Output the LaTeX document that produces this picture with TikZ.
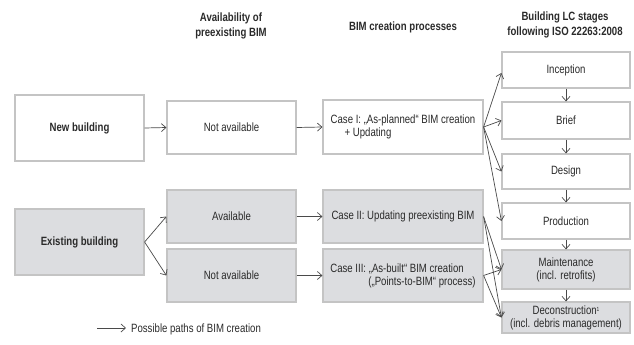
\documentclass[tikz,border=0pt]{standalone}
\usepackage{fontspec}
\setmainfont{Liberation Sans}[FakeStretch=0.8]
\usetikzlibrary{arrows.meta}
\definecolor{boxline}{HTML}{C4C4C4}
\definecolor{boxfill}{HTML}{DCDDE0}
\definecolor{arrowc}{HTML}{4A4A4A}
\definecolor{txt}{HTML}{2A2A2A}
\begin{document}
\begin{tikzpicture}[x=1pt,y=-1pt,
  font=\fontsize{12}{13}\selectfont, text=txt,
  box/.style={draw=boxline, line width=1.2pt, fill=white, inner sep=0pt, align=center},
  gbox/.style={box, fill=boxfill},
  hdr/.style={font=\fontsize{12}{14.5}\selectfont\bfseries, align=center, inner sep=0pt},
  arr/.style={draw=arrowc, line width=0.7pt, -{Straight Barb[length=4.5pt,width=8pt,line width=0.7pt]}}
]
\useasboundingbox (0,0) rectangle (634,345);

% headers
\node[hdr] (h1) at (231,26) {Availability of\\preexisting BIM};
\node[hdr] (h2) at (403,27) {BIM creation processes};
\node[hdr] (h3) at (565,25) {Building LC stages\\following ISO 22263:2008};

% column 1
\node[box, minimum width=129pt, minimum height=66pt, font=\fontsize{12}{13}\selectfont\bfseries] (new) at (79.5,128) {New building};
\node[gbox, minimum width=129pt, minimum height=66pt, font=\fontsize{12}{13}\selectfont\bfseries] (exist) at (79.5,242) {Existing building};

% column 2
\node[box, minimum width=129pt, minimum height=53pt] (na1) at (231.5,127.5) {Not available};
\node[gbox, minimum width=129pt, minimum height=53pt] (avail) at (231.5,216.5) {Available};
\node[gbox, minimum width=129pt, minimum height=53pt] (na2) at (231.5,275.5) {Not available};

% column 3
\node[box, minimum width=160pt, minimum height=54pt, align=left] (c1) at (403,127) {Case I: „As-planned“ BIM creation\\\hspace*{14pt}+ Updating};
\node[gbox, minimum width=160pt, minimum height=53pt] (c2) at (403,216.5) {Case II: Updating preexisting BIM};
\node[gbox, minimum width=160pt, minimum height=53pt, align=left] (c3) at (403,275.5) {Case III: „As-built“ BIM creation\\\hspace*{38pt}(„Points-to-BIM“ process)};

% column 4
\node[box, minimum width=128pt, minimum height=36pt] (incep) at (566,70) {Inception};
\node[box, minimum width=128pt, minimum height=37pt] (brief) at (566,120.5) {Brief};
\node[box, minimum width=128pt, minimum height=35pt] (design) at (566,171.5) {Design};
\node[box, minimum width=128pt, minimum height=36pt] (prod) at (566,221) {Production};
\node[gbox, minimum width=128pt, minimum height=39pt] (maint) at (566,269.5) {Maintenance\\(incl. retrofits)};
\node[gbox, minimum width=128pt, minimum height=31pt] (decon) at (566,317.5) {Deconstruction\raisebox{3pt}{\fontsize{6}{6}\selectfont 1}\\(incl. debris management)};

% horizontal arrows
\draw[arr] (new.east) -- (na1.west);
\draw[arr] (na1.east) -- (c1.west);
\draw[arr] (avail.east) -- (c2.west);
\draw[arr] (na2.east) -- (c3.west);
\draw[arr] (exist.east) -- (avail.west);
\draw[arr] (exist.east) -- (na2.west);

% case I to stages
\draw[arr] (c1.east) -- ([yshift=-3pt]incep.west);
\draw[arr] (c1.east) -- (brief.west);
\draw[arr] (c1.east) -- (design.west);
\draw[arr] (c1.east) -- (prod.west);
% case II and III to stages
\draw[arr] (c2.east) -- (maint.west);
\draw[arr] (c2.east) -- (decon.west);
\draw[arr] (c3.east) -- (maint.west);
\draw[arr] (c3.east) -- (decon.west);

% vertical arrows
\draw[arr] (incep.south) -- (brief.north);
\draw[arr] (brief.south) -- (design.north);
\draw[arr] (design.south) -- (prod.north);
\draw[arr] (prod.south) -- (maint.north);
\draw[arr] (maint.south) -- (decon.north);

% legend
\coordinate (l1) at (97,328);
\coordinate (l2) at (126,328);
\draw[arr] (l1) -- (l2);
\node[anchor=west, inner sep=0pt] (legtext) at (131,329) {Possible paths of BIM creation};
\end{tikzpicture}
\end{document}
